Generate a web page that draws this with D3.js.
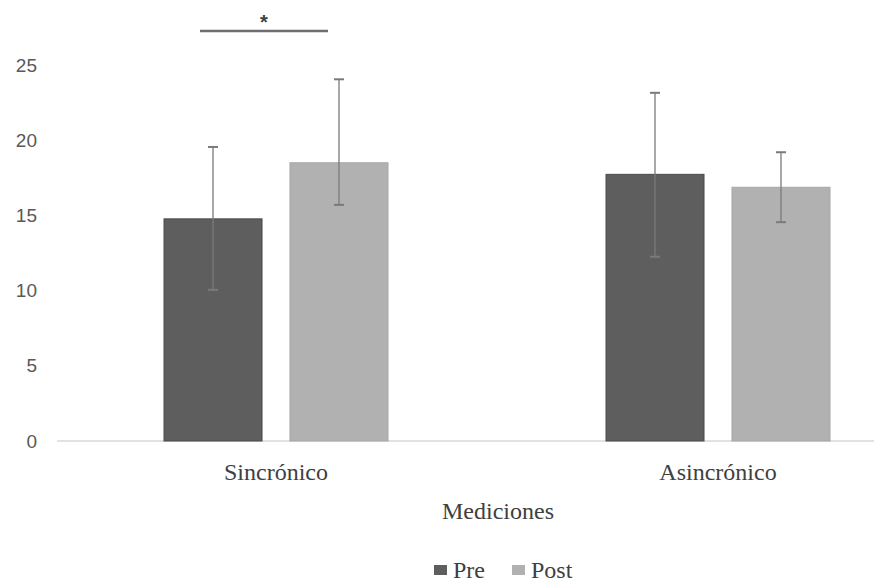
<!DOCTYPE html>
<html>
<head>
<meta charset="utf-8">
<script src="https://cdn.jsdelivr.net/npm/d3@7"></script>
<style>
  body { margin: 0; background: #fff; }
</style>
</head>
<body>
<div id="chart"></div>
<script>
const categories = ["Sincrónico", "Asincrónico"];
const series = ["Pre", "Post"];
const preValues = [14.77, 17.73];
const postValues = [18.5, 16.87];
// error bar ends (low, high)
const preLow = [10.05, 12.25];
const preHigh = [19.55, 23.15];
const postLow = [15.7, 14.55];
const postHigh = [24.05, 19.2];
const yTicks = [0, 5, 10, 15, 20, 25];
const colors = { Pre: "#5e5e5e", Post: "#b1b1b1" };

const width = 874, height = 583;

const data = categories.flatMap((c, i) => [
  { cat: c, s: "Pre", v: preValues[i], lo: preLow[i], hi: preHigh[i] },
  { cat: c, s: "Post", v: postValues[i], lo: postLow[i], hi: postHigh[i] }
]);

const svg = d3.select("#chart").append("svg")
  .attr("width", width)
  .attr("height", height);

const y = d3.scaleLinear().domain([0, 25]).range([441, 65]);
const x0 = d3.scaleBand().domain(categories).range([55, 939]).paddingInner(0);
const x1 = d3.scaleBand().domain(series).range([-112, 112]).paddingInner(0.222).paddingOuter(0);

// y tick labels (no axis line, no gridlines)
const yAxis = svg.append("g")
  .attr("transform", "translate(37,0)")
  .call(d3.axisLeft(y).tickValues(yTicks).tickSize(0).tickPadding(0));
yAxis.select(".domain").remove();
yAxis.selectAll("text")
  .attr("font-family", "Liberation Sans, Arial, sans-serif")
  .attr("font-size", 19)
  .attr("fill", "#595959")
  .attr("text-anchor", "end");

// baseline
svg.append("line")
  .attr("x1", 57).attr("x2", width)
  .attr("y1", y(0)).attr("y2", y(0))
  .attr("stroke", "#d9d9d9")
  .attr("stroke-width", 1.5);

const cx = d => x0(d.cat) + x0.bandwidth() / 2 + x1(d.s);

svg.append("g")
  .selectAll("rect")
  .data(data)
  .join("rect")
  .attr("x", d => cx(d))
  .attr("width", x1.bandwidth())
  .attr("y", d => y(d.v))
  .attr("height", d => y(0) - y(d.v))
  .attr("fill", d => colors[d.s])
  .attr("stroke", d => d.s === "Pre" ? "#4a4a4a" : "#a8a8a8")
  .attr("stroke-width", 1);

// error bars
const err = svg.append("g")
  .attr("stroke", "#7a7a7a")
  .attr("stroke-width", 1.3)
  .selectAll("g")
  .data(data)
  .join("g")
  .attr("transform", d => `translate(${cx(d) + x1.bandwidth() / 2},0)`);

err.append("line")
  .attr("y1", d => y(d.lo)).attr("y2", d => y(d.hi));
err.append("line")
  .attr("x1", -5).attr("x2", 5)
  .attr("y1", d => y(d.hi)).attr("y2", d => y(d.hi))
  .attr("stroke-width", 2);
err.append("line")
  .attr("x1", -5).attr("x2", 5)
  .attr("y1", d => y(d.lo)).attr("y2", d => y(d.lo))
  .attr("stroke-width", 2);

// significance bracket
const sinc = data.filter(d => d.cat === "Sincrónico");
const sigX1 = cx(sinc[0]) + x1.bandwidth() / 2 - 13;
const sigX2 = cx(sinc[1]) + x1.bandwidth() / 2 - 11;
svg.append("line")
  .attr("x1", sigX1).attr("x2", sigX2)
  .attr("y1", 31).attr("y2", 31)
  .attr("stroke", "#6e6e6e")
  .attr("stroke-width", 2.5);
svg.append("text")
  .attr("x", (sigX1 + sigX2) / 2)
  .attr("y", 29)
  .attr("text-anchor", "middle")
  .attr("font-family", "Liberation Sans, Arial, sans-serif")
  .attr("font-size", 20)
  .attr("font-weight", "bold")
  .attr("fill", "#404040")
  .text("*");

// category labels
const serif = "Liberation Serif, Times New Roman, serif";
svg.append("g")
  .selectAll("text")
  .data(categories)
  .join("text")
  .attr("x", d => x0(d) + x0.bandwidth() / 2)
  .attr("y", 480)
  .attr("text-anchor", "middle")
  .attr("font-family", serif)
  .attr("font-size", 24)
  .attr("fill", "#404040")
  .text(d => d);

svg.append("text")
  .attr("x", 498)
  .attr("y", 519)
  .attr("text-anchor", "middle")
  .attr("font-family", serif)
  .attr("font-size", 24)
  .attr("fill", "#404040")
  .text("Mediciones");

// legend
const legendX = [434, 512];
const legend = svg.append("g")
  .selectAll("g")
  .data(series)
  .join("g")
  .attr("transform", (d, i) => `translate(${legendX[i]},565)`);
legend.append("rect")
  .attr("width", 13).attr("height", 10)
  .attr("fill", d => colors[d]);
legend.append("text")
  .attr("x", 19)
  .attr("y", 13)
  .attr("font-family", serif)
  .attr("font-size", 24)
  .attr("fill", "#404040")
  .text(d => d);
</script>
</body>
</html>
